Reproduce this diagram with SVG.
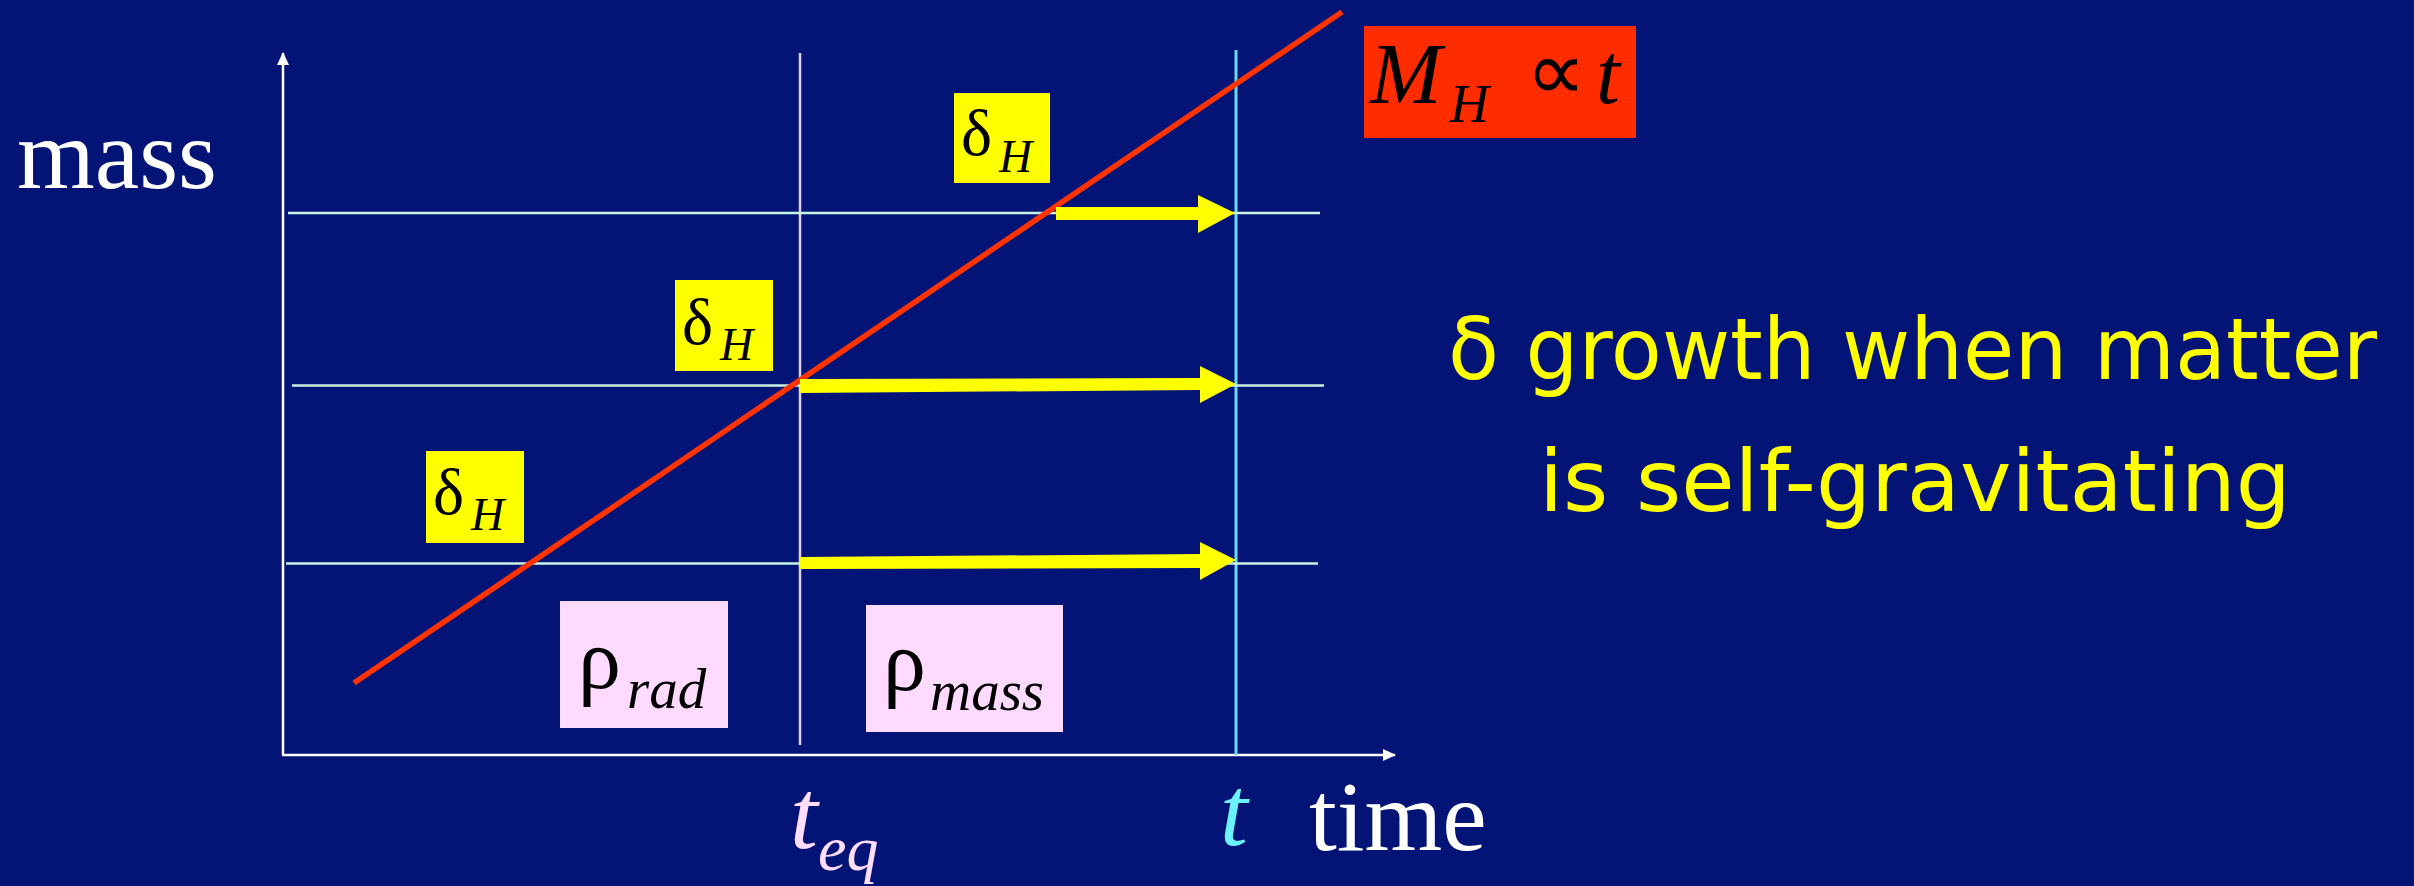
<svg xmlns="http://www.w3.org/2000/svg" width="2414" height="886" viewBox="0 0 2414 886">
  <style>
    .serif { font-family: "Liberation Serif", "Times New Roman", serif; fill: #000000; }
    .ital { font-style: italic; }
    .axis { stroke: #FFFFFF; stroke-width: 2.5; fill: none; }
    .hline { stroke: #C8F2E2; stroke-width: 2.5; fill: none; }
    .arrow { fill: #FFFF00; }
    .ybox { fill: #FFFF00; }
    .pbox { fill: #FFDAFF; }
    .comic { font-family: "DejaVu Sans", "Liberation Sans", sans-serif; fill: #FFFF00; font-size: 86px; }
  </style>
  <defs>
    <marker id="axhead" markerUnits="userSpaceOnUse" markerWidth="14" markerHeight="12" refX="12" refY="6" orient="auto">
      <path d="M0,0 L13,6 L0,12 z" fill="#FFFFFF"/>
    </marker>
  </defs>
  <rect x="0" y="0" width="2414" height="886" fill="#031476"/>

  <g id="connectors">
    <line id="y-axis" class="axis" x1="283" y1="755" x2="283" y2="53" marker-end="url(#axhead)"/>
    <line id="x-axis" class="axis" x1="282" y1="755" x2="1395" y2="755" marker-end="url(#axhead)"/>
    <line id="teq-line" x1="800" y1="53" x2="800" y2="745" stroke="#E2D2F2" stroke-width="2.5"/>
    <line id="t-line" x1="1236" y1="50" x2="1236" y2="755" stroke="#66DDF5" stroke-width="3"/>
    <line class="hline" x1="288" y1="213" x2="1320" y2="213"/>
    <line class="hline" x1="292" y1="385.5" x2="1324" y2="385.5"/>
    <line class="hline" x1="286" y1="563.5" x2="1318" y2="563.5"/>
    <line id="horizon-line" x1="1342" y1="12" x2="354" y2="683" stroke="#FF3300" stroke-width="5.5"/>
    <polygon class="arrow" points="1056,207 1198,207 1198,195 1235,213 1198,233 1198,220 1056,220"/>
    <polygon class="arrow" points="800,379 1200,378 1200,366 1236,384 1200,403 1200,390 800,393"/>
    <polygon class="arrow" points="800,557 1200,554 1200,542 1236,560 1200,580 1200,568 800,569"/>
  </g>

  <g id="label-mass">
    <text class="serif" x="17" y="188" font-size="100" style="fill:#FFFFFF">mass</text>
  </g>

  <g id="label-teq">
    <text class="serif ital" x="790" y="848" font-size="100" style="fill:#FFDDFF">t<tspan x="818" y="870" font-size="64">eq</tspan></text>
  </g>

  <g id="label-t">
    <text class="serif ital" x="1220" y="845" font-size="100" style="fill:#6CF2FF">t</text>
  </g>

  <g id="label-time">
    <text class="serif" x="1309" y="850" font-size="100" style="fill:#FFFFFF">time</text>
  </g>

  <g id="box-MH">
    <rect x="1364" y="26" width="272" height="112" fill="#FF2C00"/>
    <text class="serif ital" x="1370" y="103" font-size="86">M<tspan x="1450" y="122" font-size="54">H</tspan><tspan x="1526" y="100" font-style="normal" font-size="84">∝</tspan><tspan x="1596" y="103">t</tspan></text>
  </g>

  <g id="deltaH-1">
    <rect class="ybox" x="954" y="93" width="96" height="90"/>
    <text class="serif" x="961" y="155" font-size="66">δ<tspan x="999" y="172" font-size="46" font-style="italic">H</tspan></text>
  </g>

  <g id="deltaH-2">
    <rect class="ybox" x="675" y="280" width="98" height="91"/>
    <text class="serif" x="682" y="344" font-size="66">δ<tspan x="720" y="360" font-size="46" font-style="italic">H</tspan></text>
  </g>

  <g id="deltaH-3">
    <rect class="ybox" x="426" y="451" width="98" height="92"/>
    <text class="serif" x="433" y="514" font-size="66">δ<tspan x="471" y="530" font-size="46" font-style="italic">H</tspan></text>
  </g>

  <g id="rho-rad">
    <rect class="pbox" x="560" y="601" width="168" height="127"/>
    <text class="serif" x="578" y="688" font-size="86">ρ<tspan x="627" y="708" font-size="57" font-style="italic">rad</tspan></text>
  </g>

  <g id="rho-mass">
    <rect class="pbox" x="866" y="605" width="197" height="127"/>
    <text class="serif" x="883" y="690" font-size="86">ρ<tspan x="930" y="710" font-size="57" font-style="italic">mass</tspan></text>
  </g>

  <g id="caption">
    <text class="comic" x="1448" y="379" textLength="929" lengthAdjust="spacingAndGlyphs">δ growth when matter</text>
    <text class="comic" x="1539" y="511" textLength="752" lengthAdjust="spacingAndGlyphs">is self-gravitating</text>
  </g>
</svg>
